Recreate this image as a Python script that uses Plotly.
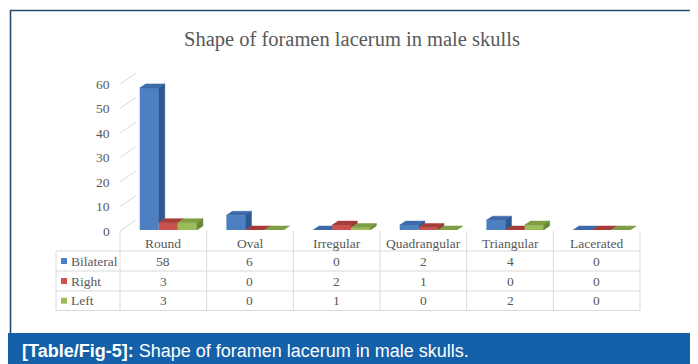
import plotly.graph_objects as go

# ---------------- data ----------------
categories = ["Round", "Oval", "Irregular", "Quadrangular", "Triangular", "Lacerated"]
series_names = ["Bilateral", "Right", "Left"]
bilateral = [58, 6, 0, 2, 4, 0]
right = [3, 0, 2, 1, 0, 0]
left = [3, 0, 1, 0, 2, 0]
y_ticks = [0, 10, 20, 30, 40, 50, 60]
title_text = "Shape of foramen lacerum in male skulls"
caption_bold = "[Table/Fig-5]:"
caption_text = "Shape of foramen lacerum in male skulls."

series_values = [bilateral, right, left]
front_colors = ["#4C80C0", "#CB524E", "#9CBC5A"]
top_colors = ["#3C6AAB", "#A63C3A", "#7F9D45"]
side_colors = ["#2D5892", "#8C3331", "#6A8836"]

# ---------------- geometry (pixels) ----------------
W, H = 698, 364
def px(x):
    return x / W
def py(y):
    return 1 - y / H

FRONT_L, FRONT_R = 112.0, 632.0        # front floor edge
DEPTH_X, DEPTH_Y = 16.0, 11.0           # wall depth offset
Y0_FRONT, YTOP_FRONT = 223.0, 76.0      # y = 0 / y = 60 on front edge
Y0_BACK, YTOP_BACK = Y0_FRONT - DEPTH_Y, YTOP_FRONT - DEPTH_Y
BAR_SHIFT_X = 5.0
BAR_Y0, BAR_YTOP = 222.0, 75.0
YMAX = 60
ncat = len(categories)
col_w = (FRONT_R - FRONT_L) / ncat
ppu_y = (YTOP_FRONT - Y0_FRONT) / YMAX   # negative px per unit

GRID = "#D9D9D9"
TXT = "#595959"
SERIF = "Liberation Serif, Times New Roman, serif"

fig = go.Figure()

# bar geometry in data units
group_frac = 0.66
w = group_frac / 3
offsets = [-group_frac / 2 + k * w for k in range(3)]
dx = 6.0 / col_w
dy = 4.0 / ((BAR_Y0 - BAR_YTOP) / YMAX)

# front faces as bars
for k, name in enumerate(series_names):
    fig.add_trace(go.Bar(
        x=list(range(ncat)), y=series_values[k], name=name,
        width=w, offset=offsets[k],
        marker=dict(color=front_colors[k], line=dict(width=0)),
        xaxis="x2", yaxis="y2", showlegend=False, hoverinfo="skip"))

# top and side faces
for k in range(3):
    tx, ty, sx, sy = [], [], [], []
    for i in range(ncat):
        v = series_values[k][i]
        vn = series_values[k + 1][i] if k < 2 else None
        x0 = i + offsets[k]
        x1 = x0 + w
        if vn is not None and vn > v:
            tx += [x0, x1, x1, x0 + dx, x0, None]
            ty += [v, v, v + dy, v + dy, v, None]
        else:
            tx += [x0, x1, x1 + dx, x0 + dx, x0, None]
            ty += [v, v, v + dy, v + dy, v, None]
        base = 0 if vn is None else vn
        if v > base:
            sx += [x1, x1, x1 + dx, x1 + dx, x1, None]
            sy += [base, v, v + dy, base + dy, base, None]
    fig.add_trace(go.Scatter(x=tx, y=ty, mode="lines", fill="toself",
                             fillcolor=top_colors[k], line=dict(width=0.5, color=top_colors[k]),
                             xaxis="x2", yaxis="y2", showlegend=False, hoverinfo="skip"))
    if sx:
        fig.add_trace(go.Scatter(x=sx, y=sy, mode="lines", fill="toself",
                                 fillcolor=side_colors[k], line=dict(width=0.5, color=side_colors[k]),
                                 xaxis="x2", yaxis="y2", showlegend=False, hoverinfo="skip"))

shapes = []
annotations = []

# outer frame and caption band
shapes.append(dict(type="rect", xref="paper", yref="paper",
                   x0=px(2.5), x1=px(694.5), y0=py(326), y1=py(2.5),
                   line=dict(color="#2B4A70", width=1.6), fillcolor="rgba(0,0,0,0)", layer="below"))
shapes.append(dict(type="rect", xref="paper", yref="paper",
                   x0=px(0), x1=px(696), y0=py(361), y1=py(325),
                   line=dict(width=0), fillcolor="#1561A9", layer="below"))

# side-wall connectors and y labels
for t in y_ticks:
    yf = Y0_FRONT + t * ppu_y
    shapes.append(dict(type="line", xref="paper", yref="paper",
                       x0=px(FRONT_L), y0=py(yf), x1=px(FRONT_L + DEPTH_X), y1=py(yf - DEPTH_Y),
                       line=dict(color=GRID, width=1)))
    annotations.append(dict(text=str(t), x=px(FRONT_L - 8), y=py(yf), xref="paper", yref="paper",
                            xanchor="right", yanchor="middle", showarrow=False,
                            font=dict(family=SERIF, size=13.5, color=TXT)))

# data table
row_ys = [243, 263, 283, 302.5]
head_top = 223
tab_left = 48
for j in range(ncat + 1):
    xx = FRONT_L + j * col_w
    shapes.append(dict(type="line", xref="paper", yref="paper",
                       x0=px(xx), x1=px(xx), y0=py(head_top), y1=py(row_ys[-1]),
                       line=dict(color=GRID, width=1)))
shapes.append(dict(type="line", xref="paper", yref="paper",
                   x0=px(tab_left), x1=px(tab_left), y0=py(row_ys[0]), y1=py(row_ys[-1]),
                   line=dict(color=GRID, width=1)))
for ry in row_ys:
    shapes.append(dict(type="line", xref="paper", yref="paper",
                       x0=px(tab_left), x1=px(FRONT_R), y0=py(ry), y1=py(ry),
                       line=dict(color=GRID, width=1)))

for i, c in enumerate(categories):
    cx = FRONT_L + (i + 0.5) * col_w
    annotations.append(dict(text=c, x=px(cx), y=py(235), xref="paper", yref="paper",
                            xanchor="center", yanchor="middle", showarrow=False,
                            font=dict(family=SERIF, size=13.5, color=TXT)))
    for k in range(3):
        ry = (row_ys[k] + row_ys[k + 1]) / 2
        annotations.append(dict(text=str(series_values[k][i]), x=px(cx), y=py(ry),
                                xref="paper", yref="paper", xanchor="center", yanchor="middle",
                                showarrow=False, font=dict(family=SERIF, size=13.5, color=TXT)))

for k, name in enumerate(series_names):
    ry = (row_ys[k] + row_ys[k + 1]) / 2
    shapes.append(dict(type="rect", xref="paper", yref="paper",
                       x0=px(53), x1=px(59), y0=py(ry + 3), y1=py(ry - 3),
                       line=dict(width=0), fillcolor=front_colors[k]))
    annotations.append(dict(text=name, x=px(61), y=py(ry), xref="paper", yref="paper",
                            xanchor="left", yanchor="middle", showarrow=False,
                            font=dict(family=SERIF, size=13.5, color=TXT)))

# title and caption
annotations.append(dict(text=title_text, x=px(344), y=py(31), xref="paper", yref="paper",
                        xanchor="center", yanchor="middle", showarrow=False,
                        font=dict(family=SERIF, size=20.5, color=TXT)))
annotations.append(dict(text="<b>" + caption_bold + "</b> " + caption_text,
                        x=px(12), y=py(342.5), xref="paper", yref="paper",
                        xanchor="left", yanchor="middle", showarrow=False,
                        font=dict(family="Liberation Sans, Arial, sans-serif", size=18, color="white")))

fig.update_layout(
    width=W, height=H, margin=dict(l=0, r=0, t=0, b=0),
    paper_bgcolor="white", plot_bgcolor="rgba(0,0,0,0)",
    barmode="overlay", showlegend=False,
    xaxis=dict(domain=[px(FRONT_L + DEPTH_X), px(FRONT_R + DEPTH_X)], range=[-0.5, ncat - 0.5],
               visible=False, fixedrange=True),
    yaxis=dict(domain=[py(Y0_BACK), py(YTOP_BACK)], range=[0, YMAX], tickvals=y_ticks,
               showticklabels=False, showgrid=True, gridcolor=GRID, gridwidth=1,
               zeroline=True, zerolinecolor=GRID, zerolinewidth=1, showline=False,
               ticks="", fixedrange=True),
    xaxis2=dict(domain=[px(FRONT_L + BAR_SHIFT_X), px(FRONT_R + BAR_SHIFT_X)], range=[-0.5, ncat - 0.5],
                anchor="y2", visible=False, fixedrange=True),
    yaxis2=dict(domain=[py(BAR_Y0), py(BAR_YTOP)], range=[0, YMAX], anchor="x2",
                visible=False, fixedrange=True),
    shapes=shapes, annotations=annotations,
)

fig.write_html("out.html")
